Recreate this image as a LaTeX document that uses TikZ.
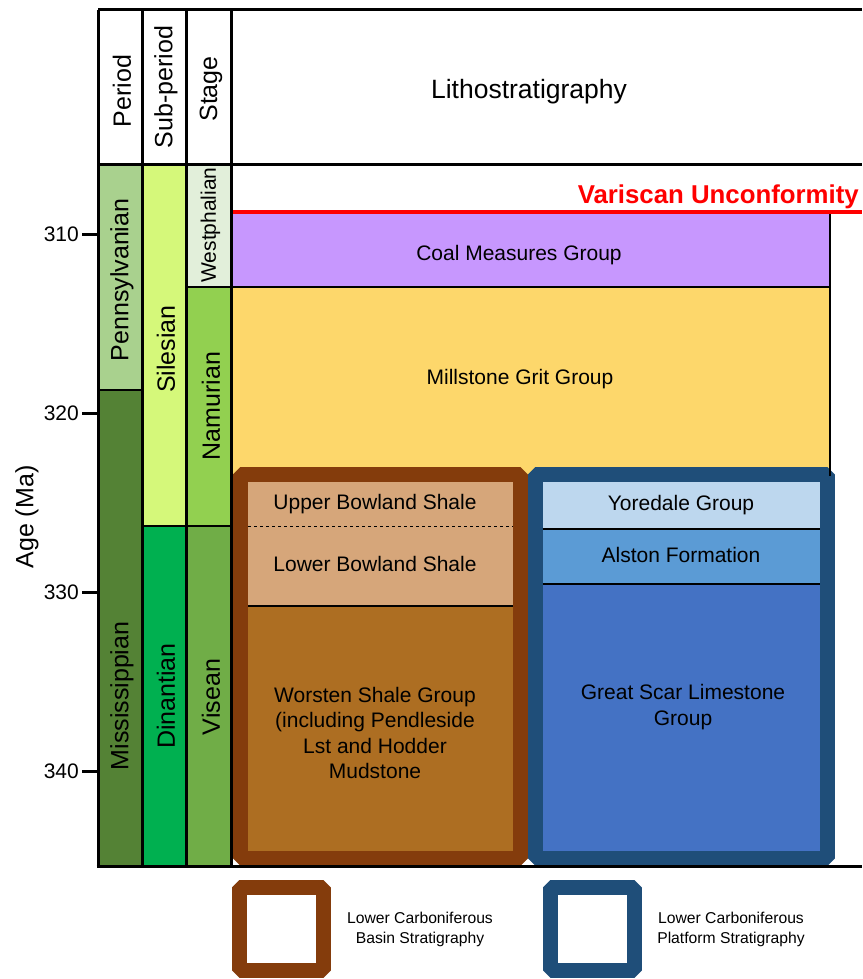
\documentclass[tikz,border=0pt]{standalone}
\usepackage{fontspec}
\setmainfont{Liberation Sans}
\usetikzlibrary{calc,positioning}

\definecolor{pennC}{HTML}{A9D18E}
\definecolor{missC}{HTML}{548235}
\definecolor{silesC}{HTML}{D5F87A}
\definecolor{dinanC}{HTML}{00B050}
\definecolor{westC}{HTML}{E2EFDA}
\definecolor{namurC}{HTML}{92D050}
\definecolor{viseC}{HTML}{70AD47}
\definecolor{coalC}{HTML}{C797FE}
\definecolor{gritC}{HTML}{FDD76B}
\definecolor{basinC}{HTML}{843C0C}
\definecolor{bowlandC}{HTML}{D6A67A}
\definecolor{worstenC}{HTML}{AD6E22}
\definecolor{platC}{HTML}{1F4E79}
\definecolor{yoreC}{HTML}{BDD7EE}
\definecolor{alstonC}{HTML}{5B9BD5}
\definecolor{scarC}{HTML}{4472C4}

\tikzset{
  colname/.style={rotate=90,font=\fontsize{25}{30}\selectfont},
  unitname/.style={font=\fontsize{21}{25.5}\selectfont,align=center},
  legendname/.style={font=\fontsize{15.7}{20}\selectfont,align=center},
  gridline/.style={black,line width=3},
  thinline/.style={black,line width=2},
  frame/.style={line width=15,line join=bevel},
}

\begin{document}
\begin{tikzpicture}[x=1pt,y=-1pt]
	\useasboundingbox (0,0) rectangle (862,979);
	\coordinate (TL) at (98,10);
	\coordinate (HB) at (98,164);
	\coordinate (BL) at (98,866);
	% time columns
	\fill[pennC] (98,164) rectangle (142,390);
	\fill[missC] (98,390) rectangle (142,866);
	\fill[silesC] (142,164) rectangle (186,526);
	\fill[dinanC] (142,526) rectangle (186,866);
	\fill[westC] (186,164) rectangle (231,287);
	\fill[namurC] (186,287) rectangle (231,526);
	\fill[viseC] (186,526) rectangle (231,866);
	% lithostratigraphy
	\fill[coalC] (231,214) rectangle (830,287);
	\fill[gritC] (231,287) rectangle (830,476);
	\draw[frame,basinC] (240.5,474.5) rectangle (520,858.5);
	\fill[bowlandC] (248,482) rectangle (512.5,606);
	\fill[worstenC] (248,606) rectangle (512.5,851);
	\draw[black,dashed,line width=1] (248,526) -- (512.5,526);
	\draw[thinline] (248,606) -- (512.5,606);
	\draw[frame,platC] (535,474.5) rectangle (827.5,858.5);
	\fill[yoreC] (542.5,482) rectangle (820,529);
	\fill[alstonC] (542.5,529) rectangle (820,584);
	\fill[scarC] (542.5,584) rectangle (820,851);
	\draw[thinline] (542.5,529) -- (820,529);
	\draw[thinline] (542.5,584) -- (820,584);
	% grid
	\draw[thinline] (98,390) -- (142,390);
	\draw[thinline] (142,526) -- (231,526);
	\draw[thinline] (186,287) -- (830,287);
	\draw[thinline] (830,214) -- (830,476);
	\draw[red,line width=4.5] (231,212) -- (862,212);
	\draw[gridline] (TL) -- (862,10);
	\draw[gridline] (HB) -- (862,164);
	\foreach \x in {98,142,186,231}
		\draw[gridline] (\x,10) -- (\x,866);
	\draw[gridline] (96.5,866) -- (862,866);
	% age axis
	\foreach \y/\a in {234/310,413/320,592/330,771/340}{
		\draw[gridline] (82,\y) -- (98,\y);
		\node[anchor=east,inner sep=0pt,font=\fontsize{21}{25}\selectfont] (tick\a) at (79,\y) {\a};
	}
	\node[colname] (age) at (27,517) {Age (Ma)};
	% headings
	\node[colname] (period) at (122,91) {Period};
	\node[colname] (subperiod) at (166,87) {Sub-period};
	\node[colname] (stage) at (211,89) {Stage};
	\node[font=\fontsize{26.5}{30}\selectfont] (litho) at (529,92) {Lithostratigraphy};
	\node[colname] (penn) at (122,280) {Pennsylvanian};
	\node[colname] (miss) at (122,696) {Mississippian};
	\node[colname] (siles) at (166,349) {Silesian};
	\node[colname] (dinan) at (166,696) {Dinantian};
	\node[colname,font=\fontsize{21}{25}\selectfont] (westph) at (210.5,225) {Westphalian};
	\node[colname] (namur) at (211,406) {Namurian};
	\node[colname] (visean) at (211,697) {Visean};
	\node[anchor=east,text=red,font=\bfseries\fontsize{25.8}{30}\selectfont,inner sep=0pt] (variscan) at (859,197) {Variscan Unconformity};
	% units
	\node[unitname] (coal) at (519,255) {Coal Measures Group};
	\node[unitname] (grit) at (520,379) {Millstone Grit Group};
	\node[unitname] (ubowland) at (375,504) {Upper Bowland Shale};
	\node[unitname] (lbowland) at (375,564) {Lower Bowland Shale};
	\node[unitname] (worsten) at (375,733) {Worsten Shale Group\\(including Pendleside\\Lst and Hodder\\Mudstone};
	\node[unitname] (yoredale) at (681,505) {Yoredale Group};
	\node[unitname] (alston) at (681,555) {Alston Formation};
	\node[unitname] (scar) at (683,707) {Great Scar Limestone\\Group};
	% legend
	\draw[frame,basinC] (239.5,887.5) rectangle (323.5,970.5);
	\node[legendname] (basinkey) at (420,929) {Lower Carboniferous\\Basin Stratigraphy};
	\draw[frame,platC] (550.5,887.5) rectangle (634.5,970.5);
	\node[legendname] (platkey) at (731,929) {Lower Carboniferous\\Platform Stratigraphy};
\end{tikzpicture}
\end{document}
